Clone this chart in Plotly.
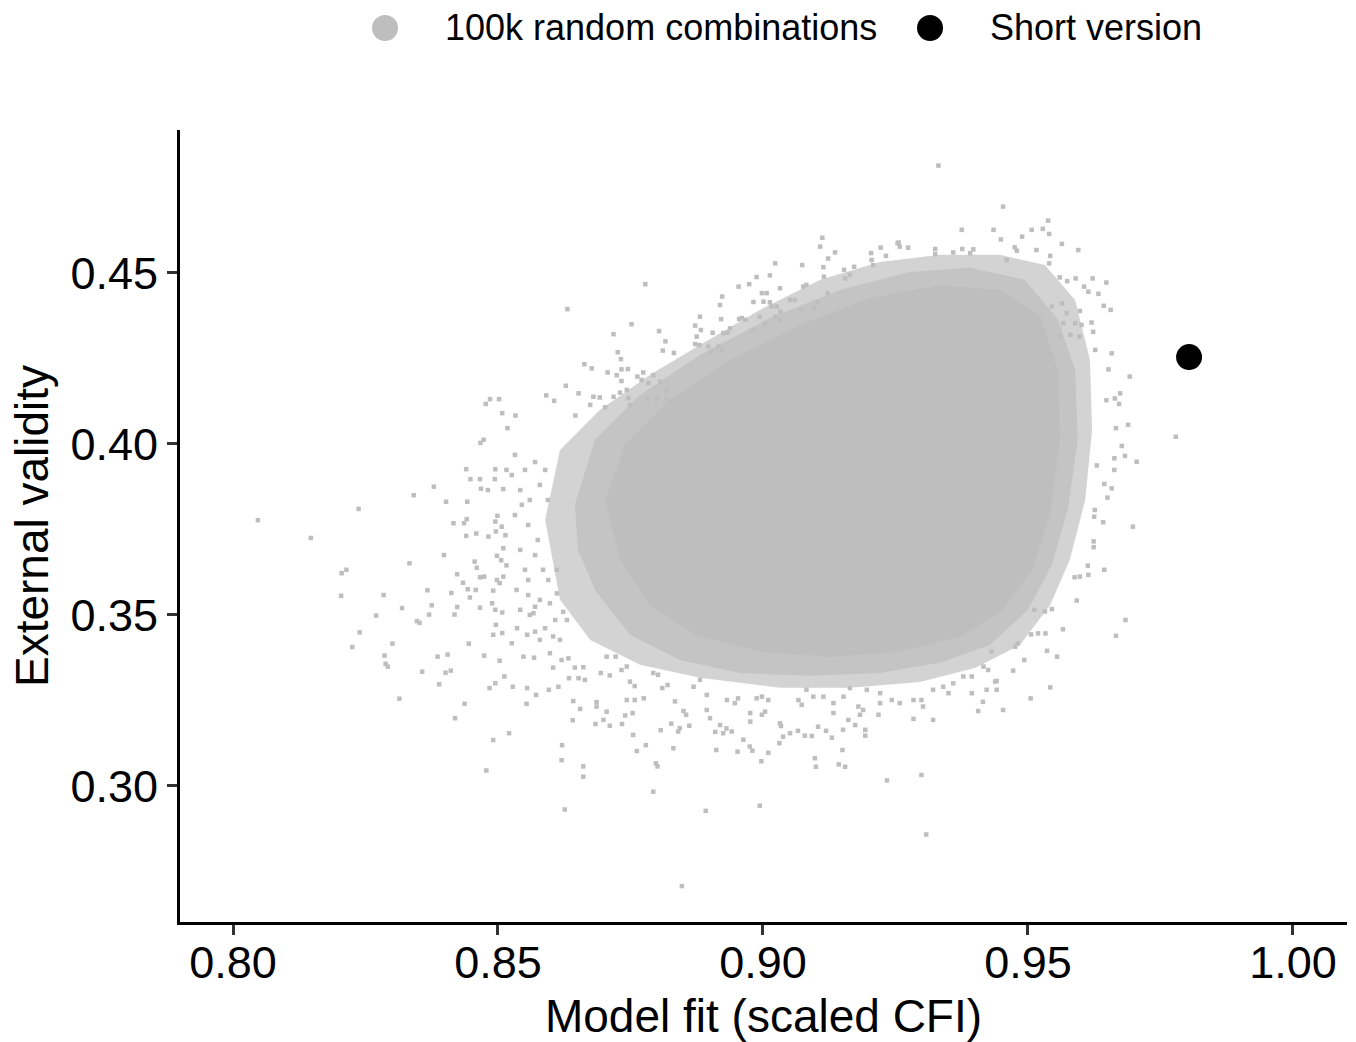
import plotly.graph_objects as go

# ---------------- data ----------------
# Individually visible points of the "100k random combinations" cloud (outer, sparse part)
cloud_x = [
    # left tail
    0.8047, 0.8147, 0.8237, 0.8205, 0.8214, 0.8204, 0.8225, 0.8239, 0.8270, 0.8284, 0.8286, 0.8288, 0.8292,
    0.8314, 0.8301, 0.8319, 0.8333, 0.8341, 0.8379, 0.8357, 0.8347, 0.8352, 0.8367, 0.8375, 0.8370, 0.8386,
    0.8405, 0.8389, 0.8401, 0.8411, 0.8398, 0.8402, 0.8412, 0.8423, 0.8423, 0.8418, 0.8416, 0.8436, 0.8441,
    0.8440, 0.8442, 0.8440, 0.8459, 0.8448, 0.8466, 0.8445, 0.8437, 0.8419, 0.8467, 0.8473, 0.8477, 0.8485,
    0.8502, 0.8508, 0.8518, 0.8466, 0.8474, 0.8484, 0.8495, 0.8503, 0.8512, 0.8434, 0.8443, 0.8447, 0.8458,
    0.8456, 0.8460, 0.8466, 0.8474, 0.8495, 0.8496, 0.8482, 0.8499, 0.8495, 0.8516, 0.8494, 0.8468, 0.8481,
    0.8510, 0.8491, 0.8498, 0.8503, 0.8510, 0.8489, 0.8495, 0.8508, 0.8496, 0.8491, 0.8508, 0.8507, 0.8514,
    0.8510, 0.8506, 0.8516, 0.8498,
    # left edge of the dense part
    0.8551, 0.8557, 0.8535, 0.8557, 0.8570, 0.8567, 0.8579, 0.8598, 0.8611, 0.8595, 0.8585, 0.8611, 0.8542,
    0.8560, 0.8536, 0.8555, 0.8570, 0.8579, 0.8589, 0.8604, 0.8617, 0.8608, 0.8623, 0.8630, 0.8526,
    0.8532, 0.8551, 0.8570, 0.8542, 0.8560, 0.8579, 0.8532, 0.8557, 0.8575, 0.8542, 0.8570, 0.8589, 0.8594,
    0.8526, 0.8545,
    # lower left
    0.8491, 0.8521, 0.8478, 0.8621, 0.8620, 0.8661, 0.8661, 0.8626, 0.8641, 0.8684, 0.8699, 0.8711, 0.8734,
    0.8755, 0.8762, 0.8779, 0.8798, 0.8801, 0.8793, 0.8831, 0.8807, 0.8827, 0.8840, 0.8843, 0.8861, 0.8892,
    0.8847, 0.8912, 0.8910,
    0.8548, 0.8568, 0.8555, 0.8572, 0.8554, 0.8598, 0.8604, 0.8614, 0.8596, 0.8620, 0.8633, 0.8645, 0.8661,
    0.8634, 0.8652, 0.8664, 0.8642, 0.8655, 0.8686, 0.8686, 0.8705, 0.8694, 0.8711, 0.8705, 0.8722, 0.8733,
    0.8743, 0.8749, 0.8758, 0.8743, 0.8758, 0.8775, 0.8754, 0.8740, 0.8793, 0.8802, 0.8810, 0.8820, 0.8869,
    0.8881, 0.8894, 0.8528,
    # upper left
    0.8631, 0.8628, 0.8652, 0.8591, 0.8606, 0.8533, 0.8646,
    0.8778, 0.8752, 0.8718, 0.8804, 0.8816, 0.8811, 0.8832, 0.8726, 0.8732, 0.8733, 0.8663, 0.8677, 0.8707,
    0.8724, 0.8745, 0.8733, 0.8680, 0.8692, 0.8718, 0.8730, 0.8743, 0.8674, 0.8702, 0.8746, 0.8749, 0.8763,
    0.8774, 0.8771, 0.8793, 0.8784, 0.8806, 0.8818, 0.8781, 0.8800, 0.8818, 0.8872, 0.8881, 0.8883, 0.8880,
    0.8875, 0.8923, 0.8919, 0.8921, 0.8954, 0.8974, 0.8988, 0.9013, 0.9023, 0.8955, 0.8967, 0.8905, 0.8925,
    0.8938, 0.8933, 0.8872, 0.8897, 0.8903, 0.8916, 0.8922, 0.8982, 0.8998, 0.9001, 0.9013, 0.9007, 0.9032,
    0.9016, 0.9033, 0.9074, 0.9076, 0.9082, 0.9114, 0.9115, 0.9123, 0.9136, 0.9112, 0.9108, 0.9051, 0.9060,
    0.9072, 0.9097, 0.9103, 0.9122, 0.9153, 0.9172, 0.9155, 0.9164, 0.9204, 0.9222, 0.9232, 0.9254, 0.9205,
    0.9208, 0.9026, 0.9023, 0.8994, 0.8960, 0.8982, 0.9004, 0.9032,
    # upper right
    0.9331, 0.9453, 0.9538, 0.9528, 0.9540, 0.9507, 0.9489, 0.9449, 0.9435, 0.9375, 0.9564, 0.9595, 0.9475,
    0.9479, 0.9516, 0.9542, 0.9540, 0.9460, 0.9376, 0.9391, 0.9397, 0.9359, 0.9325, 0.9325, 0.9256, 0.9274,
    0.9258, 0.9560, 0.9574, 0.9590, 0.9622, 0.9648, 0.9606, 0.9614, 0.9633, 0.9643, 0.9656, 0.9598, 0.9601,
    0.9620, 0.9623, 0.9597, 0.9627, 0.9658, 0.9652, 0.9692, 0.9674, 0.9664, 0.9648, 0.9545, 0.9564, 0.9573,
    0.9589, 0.9567, 0.9580, 0.9560,
    # right
    0.9779, 0.9705, 0.9698, 0.9684, 0.9666, 0.9689, 0.9672, 0.9666, 0.9677, 0.9683, 0.9663, 0.9663, 0.9644,
    0.9658, 0.9650, 0.9642, 0.9630, 0.9644, 0.9624, 0.9624, 0.9613, 0.9614, 0.9598, 0.9588, 0.9592, 0.9566,
    0.9555, 0.9536, 0.9542, 0.9505, 0.9472, 0.9493, 0.9476, 0.9481, 0.9533, 0.9519, 0.9506, 0.9545, 0.9532,
    0.9512, 0.9625, 0.9626,
    # bottom
    0.8994, 0.9308, 0.9234, 0.9299, 0.8834, 0.8850, 0.8855, 0.8952, 0.8975, 0.8980, 0.8997, 0.9010, 0.8925,
    0.8931, 0.8941, 0.8919, 0.8900, 0.8894, 0.8963, 0.8976, 0.8976, 0.8998, 0.9004, 0.9032, 0.9034, 0.9031,
    0.9038, 0.9051, 0.9066, 0.9079, 0.9092, 0.9104, 0.9119, 0.9130, 0.9151, 0.9150, 0.9098, 0.9100, 0.9143,
    0.9155, 0.9161, 0.9174, 0.9193, 0.9193, 0.9183, 0.9189, 0.9218, 0.9221, 0.9284, 0.9321, 0.9406, 0.9415,
    0.9422, 0.9394, 0.9441, 0.9431, 0.9425, 0.9441, 0.9453,
    0.8932, 0.8947, 0.8953, 0.8988, 0.8998, 0.9010, 0.9067, 0.9073, 0.9082, 0.9095, 0.9114, 0.9133, 0.9133,
    0.9152, 0.9164, 0.9180, 0.9196, 0.9221, 0.9243, 0.9258, 0.9284, 0.9299, 0.9302, 0.9321, 0.9340, 0.9350,
    0.9359, 0.9378, 0.9394, 0.9416, 0.9438,
]
cloud_y = [
    # left tail
    0.3777, 0.3725, 0.3810, 0.3622, 0.3632, 0.3556, 0.3406, 0.3449, 0.3498, 0.3558, 0.3381, 0.3357, 0.3349,
    0.3255, 0.3416, 0.3520, 0.3651, 0.3850, 0.3875, 0.3334, 0.3482, 0.3477, 0.3572, 0.3528, 0.3501, 0.3378,
    0.3384, 0.3297, 0.3331, 0.3337, 0.3675, 0.3831, 0.3564, 0.3619, 0.3523, 0.3501, 0.3768, 0.3768, 0.3780,
    0.3926, 0.3831, 0.3731, 0.3738, 0.3897, 0.3897, 0.3416, 0.3240, 0.3198, 0.4003, 0.4012, 0.4117, 0.4131,
    0.4131, 0.4090, 0.4046, 0.3521, 0.3381, 0.3286, 0.3300, 0.3366, 0.3320, 0.3594, 0.3575, 0.3551, 0.3573,
    0.3656, 0.3638, 0.3610, 0.3612, 0.3773, 0.3744, 0.3729, 0.3790, 0.3926, 0.3924, 0.3897, 0.3869, 0.3865,
    0.3868, 0.3571, 0.3602, 0.3593, 0.3612, 0.3534, 0.3515, 0.3507, 0.3471, 0.3442, 0.3447, 0.3758, 0.3733,
    0.3695, 0.3660, 0.3645, 0.3673,
    # left edge of the dense part
    0.3632, 0.3602, 0.3573, 0.3558, 0.3524, 0.3505, 0.3544, 0.3534, 0.3563, 0.3602, 0.3632, 0.3632, 0.3515,
    0.3500, 0.3461, 0.3442, 0.3451, 0.3427, 0.3461, 0.3437, 0.3427, 0.3485, 0.3509, 0.3485, 0.3417,
    0.3968, 0.3924, 0.3947, 0.3865, 0.3836, 0.3880, 0.3792, 0.3763, 0.3719, 0.3690, 0.3675, 0.3924, 0.3836,
    0.3909, 0.3822,
    # lower left
    0.3134, 0.3154, 0.3045, 0.3119, 0.3075, 0.3057, 0.3027, 0.2931, 0.3192, 0.3181, 0.3193, 0.3176, 0.3181,
    0.3149, 0.3102, 0.3119, 0.3066, 0.3057, 0.2983, 0.3110, 0.3163, 0.3182, 0.3159, 0.3169, 0.3176, 0.2927,
    0.2707, 0.3105, 0.3158,
    0.3378, 0.3375, 0.3286, 0.3266, 0.3240, 0.3388, 0.3346, 0.3290, 0.3281, 0.3368, 0.3373, 0.3346, 0.3347,
    0.3315, 0.3315, 0.3310, 0.3248, 0.3225, 0.3245, 0.3232, 0.3217, 0.3330, 0.3323, 0.3378, 0.3378, 0.3339,
    0.3349, 0.3305, 0.3292, 0.3251, 0.3251, 0.3256, 0.3213, 0.3206, 0.3330, 0.3325, 0.3286, 0.3295, 0.3290,
    0.3310, 0.3266, 0.3290,
    # upper left
    0.4394, 0.4170, 0.4148, 0.4142, 0.4126, 0.4083, 0.4083,
    0.4467, 0.4350, 0.4321, 0.4330, 0.4300, 0.4273, 0.4266, 0.4268, 0.4248, 0.4218, 0.4233, 0.4221, 0.4209,
    0.4201, 0.4219, 0.4184, 0.4138, 0.4136, 0.4138, 0.4150, 0.4158, 0.4114, 0.4107, 0.4134, 0.4114, 0.4197,
    0.4209, 0.4187, 0.4201, 0.4178, 0.4182, 0.4158, 0.4131, 0.4134, 0.4131, 0.4346, 0.4372, 0.4333, 0.4289,
    0.4314, 0.4431, 0.4406, 0.4365, 0.4460, 0.4467, 0.4488, 0.4493, 0.4528, 0.4365, 0.4363, 0.4325, 0.4324,
    0.4338, 0.4325, 0.4292, 0.4285, 0.4270, 0.4285, 0.4275, 0.4415, 0.4441, 0.4416, 0.4414, 0.4441, 0.4455,
    0.4402, 0.4387, 0.4523, 0.4460, 0.4465, 0.4517, 0.4489, 0.4542, 0.4560, 0.4603, 0.4577, 0.4421, 0.4421,
    0.4392, 0.4397, 0.4416, 0.4441, 0.4509, 0.4518, 0.4484, 0.4494, 0.4558, 0.4574, 0.4550, 0.4587, 0.4538,
    0.4523, 0.4402, 0.4372, 0.4372, 0.4368, 0.4333, 0.4353, 0.4363,
    # upper right
    0.4814, 0.4694, 0.4653, 0.4629, 0.4614, 0.4626, 0.4606, 0.4598, 0.4626, 0.4626, 0.4585, 0.4567, 0.4575,
    0.4565, 0.4567, 0.4550, 0.4528, 0.4538, 0.4570, 0.4558, 0.4569, 0.4560, 0.4570, 0.4555, 0.4589, 0.4574,
    0.4577, 0.4487, 0.4476, 0.4484, 0.4484, 0.4472, 0.4460, 0.4445, 0.4439, 0.4404, 0.4392, 0.4389, 0.4348,
    0.4355, 0.4328, 0.4314, 0.4275, 0.4265, 0.4218, 0.4197, 0.4148, 0.4133, 0.4128, 0.4402, 0.4411, 0.4382,
    0.4353, 0.4353, 0.4319, 0.4314,
    # right
    0.4021, 0.3948, 0.3758, 0.3485, 0.3439, 0.4056, 0.4117, 0.4046, 0.3994, 0.3965, 0.3958, 0.3924, 0.3883,
    0.3870, 0.3843, 0.3771, 0.3937, 0.3632, 0.3715, 0.3698, 0.3644, 0.3617, 0.3612, 0.3610, 0.3542, 0.3458,
    0.3378, 0.3395, 0.3288, 0.3256, 0.3337, 0.3368, 0.3407, 0.3417, 0.3446, 0.3446, 0.3443, 0.3517, 0.3510,
    0.3515, 0.3787, 0.3807,
    # bottom
    0.2942, 0.2858, 0.3016, 0.3032, 0.3247, 0.3219, 0.3208, 0.3100, 0.3115, 0.3103, 0.3072, 0.3097, 0.3154,
    0.3168, 0.3159, 0.3178, 0.3198, 0.3222, 0.3135, 0.3188, 0.3213, 0.3208, 0.3217, 0.3183, 0.3175, 0.3125,
    0.3144, 0.3154, 0.3161, 0.3147, 0.3146, 0.3173, 0.3161, 0.3141, 0.3164, 0.3105, 0.3081, 0.3056, 0.3063,
    0.3056, 0.3193, 0.3178, 0.3164, 0.3147, 0.3208, 0.3222, 0.3208, 0.3242, 0.3196, 0.3193, 0.3219, 0.3246,
    0.3281, 0.3271, 0.3307, 0.3393, 0.3339, 0.3281, 0.3222,
    0.3251, 0.3242, 0.3256, 0.3256, 0.3261, 0.3251, 0.3251, 0.3237, 0.3281, 0.3261, 0.3261, 0.3242, 0.3213,
    0.3261, 0.3286, 0.3232, 0.3281, 0.3271, 0.3251, 0.3242, 0.3251, 0.3251, 0.3232, 0.3281, 0.3290, 0.3271,
    0.3300, 0.3320, 0.3320, 0.3349, 0.3305,
]

# Outline of the solid (saturated) core of the cloud
core_x = [0.8702, 0.8740, 0.8825, 0.8938, 0.9070, 0.9202, 0.9334, 0.9447, 0.9523, 0.9557, 0.9560,
          0.9542, 0.9508, 0.9453, 0.9372, 0.9258, 0.9126, 0.8994, 0.8872, 0.8787, 0.8730]
core_y = [0.3836, 0.3997, 0.4129, 0.4246, 0.4348, 0.4427, 0.4465, 0.4450, 0.4377, 0.4216, 0.4012,
          0.3792, 0.3632, 0.3515, 0.3436, 0.3392, 0.3377, 0.3392, 0.3442, 0.3529, 0.3661]

# Outline of the dense, partly covered band around the core
mid_x = [0.8645, 0.8683, 0.8768, 0.8881, 0.9013, 0.9145, 0.9277, 0.9391, 0.9494, 0.9557, 0.9589, 0.9594,
         0.9575, 0.9545, 0.9500, 0.9428, 0.9334, 0.9221, 0.9089, 0.8957, 0.8843, 0.8749, 0.8683, 0.8651]
mid_y = [0.3822, 0.4012, 0.4143, 0.4260, 0.4368, 0.4450, 0.4503, 0.4515, 0.4480, 0.4363, 0.4216, 0.4012,
         0.3807, 0.3646, 0.3515, 0.3412, 0.3360, 0.3330, 0.3322, 0.3330, 0.3368, 0.3442, 0.3573, 0.3690]

# Outline of the outer, thinner band of the cloud
fringe_x = [0.8589, 0.8617, 0.8692, 0.8787, 0.8881, 0.8994, 0.9108, 0.9221, 0.9334, 0.9447, 0.9532,
            0.9589, 0.9617, 0.9621, 0.9608, 0.9579, 0.9542, 0.9485, 0.9400, 0.9296, 0.9164, 0.9032,
            0.8881, 0.8768, 0.8674, 0.8617]
fringe_y = [0.3778, 0.3982, 0.4099, 0.4202, 0.4289, 0.4392, 0.4480, 0.4532, 0.4553, 0.4553, 0.4523,
            0.4421, 0.4246, 0.4041, 0.3836, 0.3661, 0.3529, 0.3412, 0.3345, 0.3304, 0.3287, 0.3287,
            0.3316, 0.3354, 0.3427, 0.3544]

short_x = [0.9804]
short_y = [0.4254]

series_names = ["100k random combinations", "Short version"]
series_colors = ["#BEBEBE", "#000000"]

x_ticks = [0.80, 0.85, 0.90, 0.95, 1.00]
y_ticks = [0.30, 0.35, 0.40, 0.45]
x_title = "Model fit (scaled CFI)"
y_title = "External validity"

FONT = "Liberation Sans, Arial, Helvetica, sans-serif"

fig = go.Figure()


def area(xs, ys, color):
    fig.add_trace(go.Scatter(
        x=xs + xs[:1], y=ys + ys[:1], mode="lines", fill="toself", fillcolor=color,
        line=dict(width=0), hoverinfo="skip", showlegend=False, name=series_names[0]))


area(fringe_x, fringe_y, "rgba(190,190,190,0.68)")
area(mid_x, mid_y, "rgba(190,190,190,0.72)")
area(core_x, core_y, series_colors[0])

fig.add_trace(go.Scatter(
    x=cloud_x, y=cloud_y, mode="markers", name=series_names[0], showlegend=False,
    marker=dict(symbol="square", size=4.5, color=series_colors[0], line=dict(width=0))))
fig.add_trace(go.Scatter(
    x=short_x, y=short_y, mode="markers", name=series_names[1], showlegend=False,
    marker=dict(symbol="circle", size=26, color=series_colors[1], line=dict(width=0))))

# legend drawn at the top (symbols + text), positioned in paper coordinates
leg_y = 1.1288
leg_sym_x = [0.1757, 0.6427]
leg_txt_x = [0.2254, 0.6924]
shapes = []
annotations = []
for i in range(2):
    shapes.append(dict(type="circle", xref="paper", yref="paper", xsizemode="pixel", ysizemode="pixel",
                       xanchor=leg_sym_x[i], yanchor=leg_y, x0=-13, x1=13, y0=-13, y1=13,
                       fillcolor=series_colors[i], line=dict(width=0)))
    annotations.append(dict(text=series_names[i], xref="paper", yref="paper", x=leg_txt_x[i], y=leg_y,
                            xanchor="left", yanchor="middle", showarrow=False,
                            font=dict(size=36, color="black", family=FONT)))

axis_common = dict(
    showgrid=False, zeroline=False, showline=True, linecolor="black", linewidth=3,
    ticks="outside", ticklen=10, tickwidth=3, tickcolor="#333333", automargin=False,
    tickfont=dict(size=45, color="black", family=FONT), tickformat=".2f",
)

fig.update_layout(
    width=1356, height=1042,
    margin=dict(l=180, r=9, t=130, b=120),
    paper_bgcolor="white", plot_bgcolor="white",
    font=dict(family=FONT, color="black"),
    showlegend=False,
    shapes=shapes, annotations=annotations,
    xaxis=dict(range=[0.79, 1.0102], tickvals=x_ticks, ticklabelstandoff=-11,
               title=dict(text=x_title, font=dict(size=46, color="black", family=FONT), standoff=24),
               **axis_common),
    yaxis=dict(range=[0.2602, 0.4918], tickvals=y_ticks,
               title=dict(text=y_title, font=dict(size=46, color="black", family=FONT), standoff=8),
               **axis_common),
)

fig.write_html("out.html", config={"displayModeBar": False},
               post_script="document.body.style.margin='0';")
